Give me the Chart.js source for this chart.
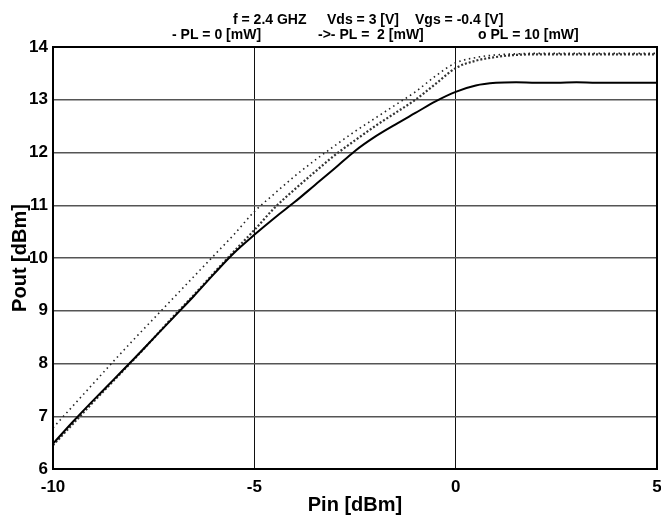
<!DOCTYPE html>
<html>
<head>
<meta charset="utf-8">
<script src="https://cdn.jsdelivr.net/npm/chart.js@4/dist/chart.umd.min.js"></script>
<style>
  body { margin: 0; background: #fff; }
  #wrap { width: 661px; height: 518px; }
</style>
</head>
<body>
<div id="wrap"><canvas id="myChart"></canvas></div>
<script>
  // input power sweep [dBm]
  const pinValues = [-10, -9.5, -9, -8.5, -8, -7.5, -7, -6.5, -6, -5.5, -5, -4.5, -4, -3.5, -3, -2.5,
    -2, -1.5, -1, -0.5, 0, 0.5, 1, 1.5, 2, 2.5, 3, 3.5, 4, 4.5, 5];

  // output power [dBm]
  const poutPL0 = [6.48, 6.9, 7.3, 7.69, 8.08, 8.48, 8.88, 9.28, 9.7, 10.1, 10.44, 10.76, 11.06, 11.38, 11.7, 12.03,
    12.3, 12.53, 12.75, 12.97, 13.15, 13.27, 13.32, 13.33, 13.32, 13.32, 13.33, 13.32, 13.32, 13.32, 13.32];
  const poutPL2 = [6.78, 7.2, 7.62, 8.04, 8.45, 8.85, 9.25, 9.65, 10.05, 10.45, 10.88, 11.22, 11.55, 11.85, 12.13, 12.4,
    12.65, 12.9, 13.15, 13.45, 13.7, 13.8, 13.85, 13.87, 13.88, 13.88, 13.88, 13.88, 13.88, 13.88, 13.88];
  const poutPL10 = [6.45, 6.86, 7.27, 7.67, 8.07, 8.48, 8.9, 9.3, 9.72, 10.13, 10.53, 10.95, 11.3, 11.63, 11.95, 12.23,
    12.5, 12.75, 13.0, 13.3, 13.6, 13.74, 13.81, 13.85, 13.86, 13.86, 13.86, 13.86, 13.86, 13.86, 13.86];

  const xTicks = [-10, -5, 0, 5];
  const yTicks = [6, 7, 8, 9, 10, 11, 12, 13, 14];

  const titleLine1 = ['f = 2.4 GHZ', 'Vds = 3 [V]', 'Vgs = -0.4 [V]'];
  const titleLine2 = ['- PL = 0 [mW]', '->- PL =  2 [mW]', 'o PL = 10 [mW]'];

  const FONT = '"Liberation Sans", Arial, sans-serif';

  function toPoints(ys) {
    return pinValues.map((x, i) => ({ x: x, y: ys[i] }));
  }

  // heading + frame round the plot
  const headerPlugin = {
    id: 'header',
    afterDraw(chart) {
      const c = chart.ctx;
      const a = chart.chartArea;
      c.save();
      c.strokeStyle = '#000';
      c.lineWidth = 2;
      c.strokeRect(a.left, a.top, a.right - a.left, a.bottom - a.top);

      c.fillStyle = '#000';
      c.font = 'bold 14px ' + FONT;
      c.textAlign = 'left';
      c.textBaseline = 'alphabetic';
      const x1 = [233, 327, 415];
      titleLine1.forEach((t, i) => c.fillText(t, x1[i], 24));
      const x2 = [172, 318, 478];
      titleLine2.forEach((t, i) => c.fillText(t, x2[i], 39));
      c.restore();
    }
  };

  const ctx = document.getElementById('myChart');
  new Chart(ctx, {
    type: 'line',
    data: {
      datasets: [
        {
          label: 'PL = 0 [mW]',
          data: toPoints(poutPL0),
          borderColor: '#000',
          borderWidth: 2,
          pointRadius: 0,
          cubicInterpolationMode: 'monotone',
          fill: false
        },
        {
          label: 'PL = 2 [mW]',
          data: toPoints(poutPL2),
          borderColor: '#222',
          borderWidth: 1.6,
          borderDash: [1.5, 3.5],
          pointRadius: 0,
          cubicInterpolationMode: 'monotone',
          fill: false
        },
        {
          label: 'PL = 10 [mW]',
          data: toPoints(poutPL10),
          borderColor: '#333',
          borderWidth: 2.2,
          borderDash: [2, 2],
          pointRadius: 0,
          cubicInterpolationMode: 'monotone',
          fill: false
        }
      ]
    },
    options: {
      responsive: true,
      maintainAspectRatio: false,
      animation: false,
      layout: { padding: { top: 47, right: 4, left: 0, bottom: 0 } },
      plugins: {
        legend: { display: false },
        title: { display: false },
        tooltip: { enabled: false }
      },
      scales: {
        x: {
          type: 'linear',
          min: -10,
          max: 5,
          afterBuildTicks: (s) => { s.ticks = xTicks.map(v => ({ value: v })); },
          afterFit: (s) => { s.height = 49; s.paddingLeft = 0; s.paddingRight = 0; },
          grid: { color: '#111', lineWidth: 1, drawTicks: false },
          border: { display: false },
          ticks: {
            color: '#000',
            padding: 8,
            maxRotation: 0,
            font: { family: FONT, size: 17, weight: 'bold' }
          },
          title: {
            display: true,
            text: 'Pin [dBm]',
            color: '#000',
            padding: { top: 0, bottom: 1 },
            font: { family: FONT, size: 20, weight: 'bold' }
          }
        },
        y: {
          type: 'linear',
          min: 6,
          max: 14,
          afterBuildTicks: (s) => { s.ticks = yTicks.map(v => ({ value: v })); },
          afterFit: (s) => { s.width = 53; s.paddingTop = 0; s.paddingBottom = 0; },
          grid: { color: '#555', lineWidth: 1.5, drawTicks: false },
          border: { display: false },
          ticks: {
            color: '#000',
            padding: 5,
            font: { family: FONT, size: 17, weight: 'bold' }
          },
          title: {
            display: true,
            text: 'Pout [dBm]',
            color: '#000',
            padding: { top: 8, bottom: 0 },
            font: { family: FONT, size: 20, weight: 'bold' }
          }
        }
      }
    },
    plugins: [headerPlugin]
  });
</script>
</body>
</html>
